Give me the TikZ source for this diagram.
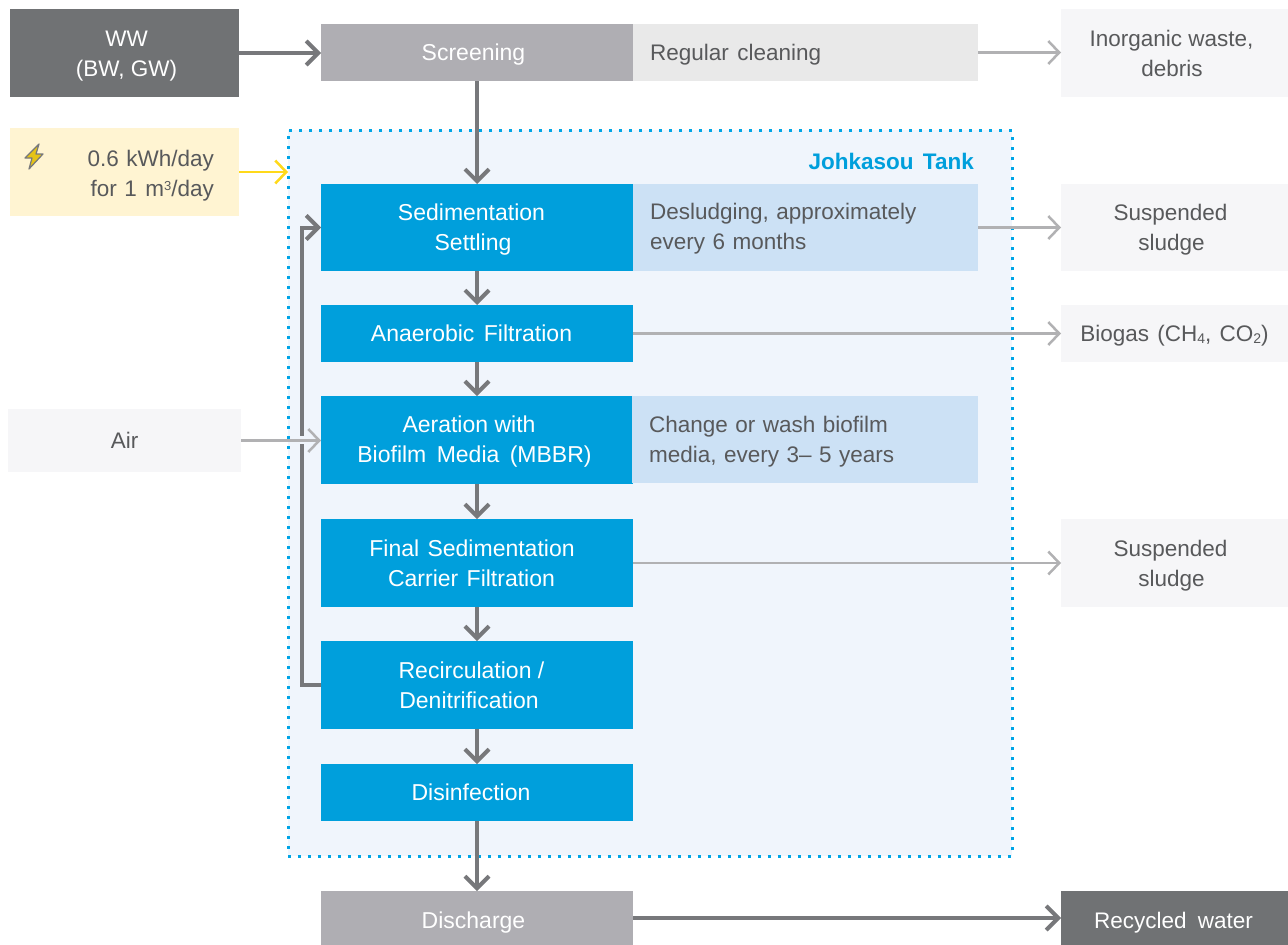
\documentclass[tikz,border=0pt]{standalone}
\usepackage{fontspec}
\setmainfont{Liberation Sans}
\usetikzlibrary{arrows.meta,calc}
\definecolor{darkbox}{HTML}{707274}
\definecolor{midbox}{HTML}{AFAEB3}
\definecolor{paleg}{HTML}{E9E9E9}
\definecolor{outbox}{HTML}{F6F6F8}
\definecolor{energy}{HTML}{FFF4D2}
\definecolor{tankfill}{HTML}{F0F5FC}
\definecolor{tankblue}{HTML}{009FDC}
\definecolor{dotblue}{HTML}{00A5E6}
\definecolor{notefill}{HTML}{CCE1F5}
\definecolor{ink}{HTML}{58595B}
\definecolor{heavy}{HTML}{77787B}
\definecolor{light}{HTML}{B1B1B3}
\definecolor{volt}{HTML}{FFD91A}
\newcommand{\ofs}[1]{\hspace*{#1pt}}
\newcommand{\dn}[1]{\rule{0pt}{\dimexpr 17pt+2pt*#1\relax}}
\newcommand{\wsp}[1]{\hspace*{#1pt}}
\newcommand{\sm}[1]{\raisebox{6pt}{\fontsize{13}{13}\selectfont #1}}
\newcommand{\sbs}[1]{\raisebox{-2pt}{\fontsize{14}{14}\selectfont #1}}
\tikzset{
  boxbase/.style={inner sep=0pt,outer sep=0pt,align=center,font=\fontsize{22.5}{30}\selectfont},
  darkst/.style={fill=darkbox,text=white},
  midst/.style={fill=midbox,text=white,font=\fontsize{23}{30}\selectfont},
  bluest/.style={fill=tankblue,text=white,font=\fontsize{23}{30}\selectfont},
  outst/.style={fill=outbox,text=ink},
  heavyarrow/.style={draw=heavy,line width=4pt,-{Straight Barb[length=12pt,width=24pt,line width=4pt]}},
  lightarrow/.style={draw=light,line width=2.5pt,-{Straight Barb[length=11pt,width=23pt,line width=2.5pt]}},
  voltarrow/.style={draw=volt,line width=2.5pt,-{Straight Barb[length=11pt,width=23pt,line width=2.5pt]}},
  notest/.style={inner xsep=17pt,align=left,text=ink,text width={#1*1pt}},
}
\newcommand{\tx}[7][]{\node[boxbase,#1,minimum width={(#5-#3)*1pt},minimum height={(#6-#4)*1pt}] (#2) at ({(#3+#5)/2},{(#4+#6)/2}) {#7};}
\begin{document}
\begin{tikzpicture}[x=1pt,y=-1pt]
\useasboundingbox (0,0) rectangle (1288,945);
% tank
\tx[fill=tankfill,draw=dotblue,line width=3pt,dash pattern=on 3pt off 7pt]{tank}{288}{130}{1012}{856}{}
\node[inner sep=0pt,text=tankblue,font=\fontsize{22.5}{24}\selectfont\bfseries,anchor=east] (tanklabel) at (974,161) {Johkasou\wsp{3} Tank};
% top row
\tx[darkst]{ww}{10}{9}{239}{97}{\dn{2}\ofs{4}WW\\\ofs{4}(BW, GW)}
\tx[midst]{scr}{321}{24}{633}{81}{\dn{2}Screening\ofs{7}}
\tx[fill=paleg,notest=311]{clean}{633}{24}{978}{81}{\dn{2}Regular\wsp{1} cleaning}
\tx[outst]{waste}{1061}{9}{1288}{97}{Inorganic waste,\ofs{6}\\debris\ofs{5}}
% energy
\tx[fill=energy,text=ink,align=right,inner xsep=25pt,text width=179pt]{power}{10}{128}{239}{216}{\dn{3}0.6 kWh/day\\for 1\wsp{1} m\sm{3}/day}
\fill[volt!90!black,draw=heavy,line width=1.2pt,line join=round] (39,144) -- (25,158) -- (32,158) -- (29,169) -- (43,154) -- (36,154) -- cycle;
% process column
\tx[bluest]{sed}{321}{184}{633}{271}{\dn{2}Sedimentation\ofs{11}\\Settling\ofs{8}}
\tx[bluest]{ana}{321}{305}{633}{362}{Anaerobic\wsp{3} Filtration\ofs{11}}
\tx[bluest]{aer}{321}{396}{633}{484}{\dn{1}Aeration with\ofs{16}\\Biofilm\wsp{4} Media\wsp{4} (MBBR)\ofs{5}}
\tx[bluest]{fin}{321}{519}{633}{607}{Final\wsp{2} Sedimentation\ofs{10}\\Carrier\wsp{2} Filtration\ofs{11}}
\tx[bluest]{rec}{321}{641}{633}{729}{Recirculation /\ofs{11}\\Denitrification\ofs{16}}
\tx[bluest]{dis}{321}{764}{633}{821}{Disinfection\ofs{12}}
\tx[midst]{disc}{321}{891}{633}{945}{\dn{4}Discharge\ofs{7}}
% notes
\tx[fill=notefill,notest=311]{desl}{633}{184}{978}{271}{\dn{1}Desludging, approximately\\every 6 months}
\tx[fill=notefill,notest=312]{chg}{632}{396}{978}{483}{\dn{2}Change or wash biofilm\\media, every 3-- 5 years}
% outputs
\tx[outst]{sl1}{1061}{184}{1288}{271}{\dn{2}Suspended\ofs{8}\\sludge\ofs{6}}
\tx[outst]{bio}{1061}{305}{1288}{362}{\dn{2}Biogas\wsp{2} (CH\sbs{4},\wsp{2} CO\sbs{2})}
\tx[outst]{sl2}{1061}{519}{1288}{607}{\dn{2}Suspended\ofs{8}\\sludge\ofs{6}}
\tx[darkst]{recy}{1061}{891}{1288}{945}{\dn{4}Recycled\wsp{5} water\ofs{2}}
\tx[outst]{air}{8}{409}{241}{472}{Air}
% connectors
\coordinate (rx) at (302,450);
\draw[heavyarrow,line join=miter] (rec.west) -| (rx) |- (sed.west);
\coordinate (gapa) at (296,439.5);
\coordinate (gapb) at (308,439.5);
\draw[tankfill,line width=8pt] (gapa) -- (gapb);
\draw[lightarrow] (air.east) -- (air.east -| aer.west);
\draw[heavyarrow] (ww.east) -- (ww.east -| scr.west);
\draw[heavyarrow] (scr.south) -- (sed.north);
\draw[heavyarrow] (sed.south) -- (ana.north);
\draw[heavyarrow] (ana.south) -- (aer.north);
\draw[heavyarrow] (aer.south) -- (fin.north);
\draw[heavyarrow] (fin.south) -- (rec.north);
\draw[heavyarrow] (rec.south) -- (dis.north);
\draw[heavyarrow] (dis.south) -- (disc.north);
\draw[heavyarrow] (disc.east) -- (recy.west);
\draw[lightarrow] (clean.east) -- (clean.east -| waste.west);
\draw[lightarrow] (desl.east) -- (sl1.west);
\draw[lightarrow] (ana.east) -- (bio.west);
\draw[lightarrow] (fin.east) -- (sl2.west);
\draw[voltarrow] (power.east) -- (power.east -| tank.west);
\end{tikzpicture}
\end{document}
